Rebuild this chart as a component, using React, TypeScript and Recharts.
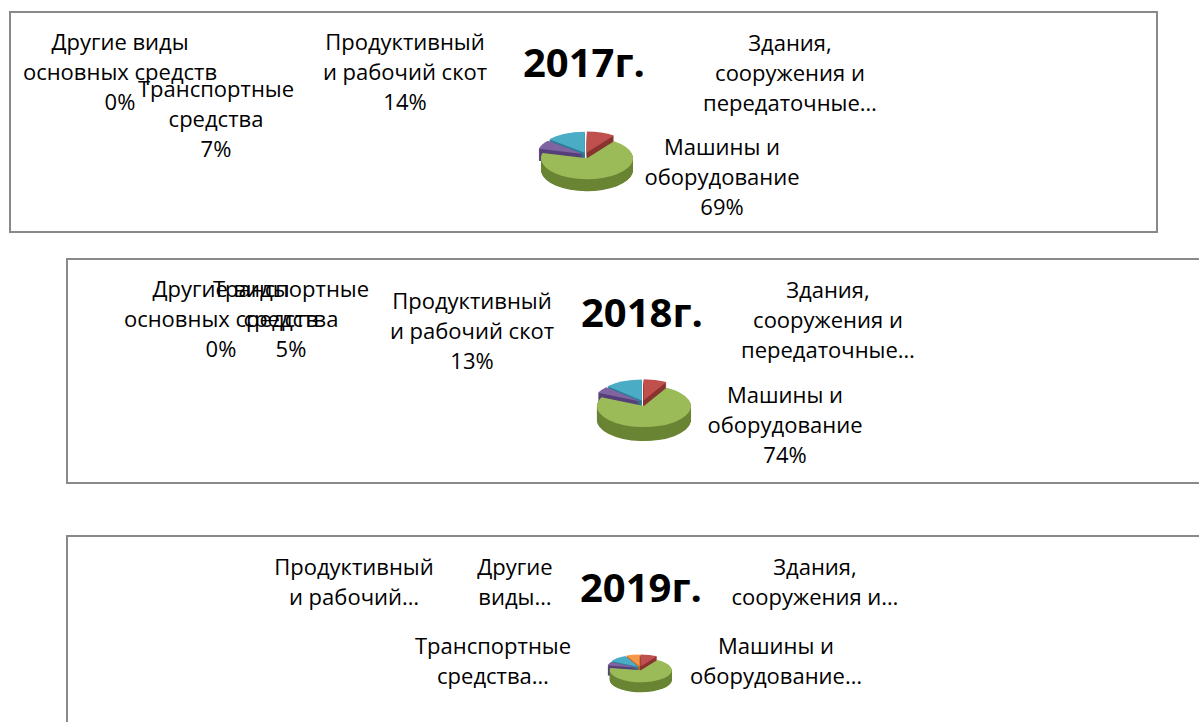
import React from 'react';
import { PieChart, Pie, Cell, Sector } from 'recharts';

const categories = [
  'Здания, сооружения и передаточные устройства',
  'Машины и оборудование',
  'Транспортные средства',
  'Продуктивный и рабочий скот',
  'Другие виды основных средств',
];
const years = ['2017г.', '2018г.', '2019г.'];
const values2017 = [10, 69, 7, 14, 0];
const values2018 = [8, 74, 5, 13, 0];
const values2019 = [9, 69, 5, 10, 7];

const topColors = ['#C0504D', '#9BBB59', '#8064A2', '#4BACC6', '#F79646'];
const sideColors = ['#8A3532', '#6A8534', '#55407A', '#2D7D94', '#B5692A'];

const FONT = '"Open Sans", sans-serif';
const RADIAN = Math.PI / 180;
const pct = (v: number) => `${v}%`;

interface Pie3DProps {
  values: number[];
  cx: number;
  cy: number;
  rx: number;
  ry: number;
  depth: number;
  explode: number;
}

const Pie3D: React.FC<Pie3DProps> = ({ values, cx, cy, rx, ry, depth, explode }) => {
  const scale = ry / rx;
  const m = 14;
  const size = 2 * rx + 2 * m;
  const depthU = depth / scale;
  const data = categories.map((name, i) => ({ name, value: values[i] }));
  const n = Math.max(1, Math.ceil(depthU / 1.5));
  const offsets: number[] = [];
  for (let k = n; k >= 1; k--) offsets.push((k * depthU) / n);

  const shape = (props: any) => {
    const mid = props.midAngle ?? (props.startAngle + props.endAngle) / 2;
    const dx = explode * Math.cos(-mid * RADIAN);
    const dy = (explode / scale) * Math.sin(-mid * RADIAN);
    return <Sector {...props} cx={props.cx + dx} cy={props.cy + dy} />;
  };

  return (
    <div
      style={{
        position: 'absolute',
        left: cx - size / 2,
        top: cy - (size / 2) * scale,
        width: size,
        height: size + depthU,
        transform: `scaleY(${scale})`,
        transformOrigin: 'top left',
      }}
    >
      <PieChart width={size} height={size + depthU} margin={{ top: 0, right: 0, bottom: 0, left: 0 }}>
        {offsets.map((off) => (
          <Pie
            key={off}
            data={data}
            dataKey="value"
            cx={size / 2}
            cy={size / 2 + off}
            outerRadius={rx}
            startAngle={90}
            endAngle={-270}
            stroke="none"
            shape={shape}
            isAnimationActive={false}
          >
            {data.map((d, i) => (
              <Cell key={d.name} fill={sideColors[i]} />
            ))}
          </Pie>
        ))}
        <Pie
          data={data}
          dataKey="value"
          cx={size / 2}
          cy={size / 2}
          outerRadius={rx}
          startAngle={90}
          endAngle={-270}
          stroke="none"
          shape={shape}
          isAnimationActive={false}
        >
          {data.map((d, i) => (
            <Cell key={d.name} fill={topColors[i]} />
          ))}
        </Pie>
      </PieChart>
    </div>
  );
};

const Label: React.FC<{ x: number; y: number; lines: string[] }> = ({ x, y, lines }) => (
  <div
    style={{
      position: 'absolute',
      left: x,
      top: y - 15,
      transform: 'translateX(-50%)',
      textAlign: 'center',
      whiteSpace: 'nowrap',
      fontFamily: FONT,
      fontSize: 22,
      lineHeight: '30px',
      color: '#000',
    }}
  >
    {lines.map((l, i) => (
      <div key={i}>{l}</div>
    ))}
  </div>
);

const Title: React.FC<{ x: number; y: number; text: string }> = ({ x, y, text }) => (
  <div
    style={{
      position: 'absolute',
      left: x,
      top: y - 25,
      transform: 'translateX(-50%)',
      fontFamily: FONT,
      fontWeight: 700,
      fontSize: 40,
      lineHeight: '50px',
      color: '#000',
      whiteSpace: 'nowrap',
    }}
  >
    {text}
  </div>
);

const panel = (left: number, top: number, width: number, height: number): React.CSSProperties => ({
  position: 'absolute',
  left,
  top,
  width,
  height,
  border: '2px solid #898989',
  boxSizing: 'border-box',
  background: '#fff',
});

export default function App() {
  return (
    <div style={{ position: 'absolute', left: 0, top: 0, width: 1199, height: 722, background: '#fff', overflow: 'hidden' }}>
      {/* 2017 */}
      <div style={panel(9, 11, 1149, 222)} />
      <Label x={120} y={41} lines={['Другие виды', 'основных средств', pct(values2017[4])]} />
      <Label x={216} y={88} lines={['Транспортные', 'средства', pct(values2017[2])]} />
      <Label x={405} y={41} lines={['Продуктивный', 'и рабочий скот', pct(values2017[3])]} />
      <Title x={584} y={62} text={years[0]} />
      <Label x={790} y={42} lines={['Здания,', 'сооружения и', 'передаточные…']} />
      <Label x={722} y={146} lines={['Машины и', 'оборудование', pct(values2017[1])]} />
      <Pie3D values={values2017} cx={586} cy={155} rx={46} ry={21} depth={12} explode={3} />

      {/* 2018 */}
      <div style={{ ...panel(66, 258, 1160, 226) }} />
      <Label x={221} y={288} lines={['Другие виды', 'основных средств', pct(values2018[4])]} />
      <Label x={291} y={288} lines={['Транспортные', 'средства', pct(values2018[2])]} />
      <Label x={472} y={300} lines={['Продуктивный', 'и рабочий скот', pct(values2018[3])]} />
      <Title x={642} y={312} text={years[1]} />
      <Label x={828} y={289} lines={['Здания,', 'сооружения и', 'передаточные…']} />
      <Label x={785} y={394} lines={['Машины и', 'оборудование', pct(values2018[1])]} />
      <Pie3D values={values2018} cx={643} cy={403} rx={47} ry={21} depth={14} explode={3} />

      {/* 2019 */}
      <div style={{ ...panel(66, 535, 1160, 220) }} />
      <Label x={354} y={566} lines={['Продуктивный', 'и рабочий…']} />
      <Label x={515} y={566} lines={['Другие', 'виды…']} />
      <Title x={641} y={587} text={years[2]} />
      <Label x={493} y={645} lines={['Транспортные', 'средства…']} />
      <Label x={815} y={566} lines={['Здания,', 'сооружения и…']} />
      <Label x={776} y={645} lines={['Машины и', 'оборудование…']} />
      <Pie3D values={values2019} cx={640} cy={668} rx={31} ry={12} depth={10} explode={2} />
    </div>
  );
}
